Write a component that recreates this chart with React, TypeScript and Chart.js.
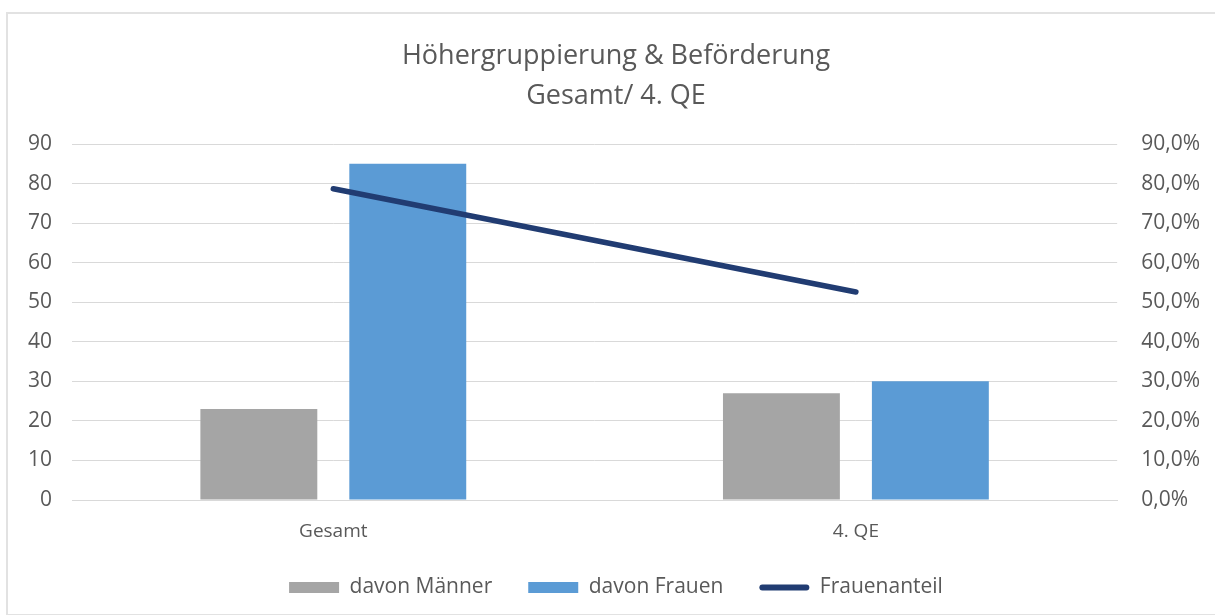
import React, { useEffect, useRef } from "react";
import { Chart, registerables } from "chart.js";

Chart.register(...registerables);

const categories = ["Gesamt", "4. QE"];
const maenner = [23, 27];
const frauen = [85, 30];
const frauenanteil = [78.7, 52.6];
const titleLines = ["Höhergruppierung & Beförderung", "Gesamt/ 4. QE"];
const legendOrder = ["davon Männer", "davon Frauen", "Frauenanteil"];

const FONT = "'Open Sans', 'Noto Sans', sans-serif";
const TEXT = "#595959";
const NAVY = "#213c72";

const legendLinePlugin = {
  id: "legendLine",
  afterDraw(chart: any) {
    const legend = chart.legend;
    if (!legend || !legend.legendHitBoxes) return;
    const idx = legend.legendItems.findIndex((it: any) => it.text === "Frauenanteil");
    const hb = legend.legendHitBoxes[idx];
    if (!hb) return;
    const bw = legend.options.labels.boxWidth;
    const ctx = chart.ctx;
    const cy = hb.top + hb.height / 2;
    ctx.save();
    ctx.strokeStyle = NAVY;
    ctx.lineWidth = 6;
    ctx.lineCap = "round";
    ctx.beginPath();
    ctx.moveTo(hb.left + 3, cy);
    ctx.lineTo(hb.left + bw - 3, cy);
    ctx.stroke();
    ctx.restore();
  },
};

export default function App() {
  const ref = useRef<HTMLCanvasElement | null>(null);
  useEffect(() => {
    if (!ref.current) return;
    const chart = new Chart(ref.current, {
      type: "bar",
      data: {
        labels: categories,
        datasets: [
          {
            type: "line",
            label: "Frauenanteil",
            data: frauenanteil,
            yAxisID: "y1",
            borderColor: NAVY,
            backgroundColor: NAVY,
            borderWidth: 5.5,
            borderCapStyle: "round",
            pointRadius: 0,
            order: 0,
          } as any,
          {
            type: "bar",
            label: "davon Männer",
            data: maenner,
            yAxisID: "y",
            backgroundColor: "#a5a5a5",
            categoryPercentage: 0.57,
            barPercentage: 0.785,
            order: 1,
          },
          {
            type: "bar",
            label: "davon Frauen",
            data: frauen,
            yAxisID: "y",
            backgroundColor: "#5b9bd5",
            categoryPercentage: 0.57,
            barPercentage: 0.785,
            order: 1,
          },
        ],
      },
      plugins: [legendLinePlugin],
      options: {
        animation: false,
        responsive: false,
        maintainAspectRatio: false,
        layout: { padding: { left: 0, right: -9, top: 0, bottom: 4 } },
        plugins: {
          title: {
            display: true,
            text: titleLines,
            color: TEXT,
            font: { family: FONT, size: 27, weight: "normal" as any, lineHeight: 1.5 },
            padding: { top: 22, bottom: 27 },
          },
          legend: {
            position: "bottom",
            labels: {
              color: TEXT,
              font: { family: FONT, size: 21 },
              boxWidth: 50,
              boxHeight: 11,
              padding: 36,
              generateLabels: (c: any) => {
                const items = Chart.defaults.plugins.legend.labels.generateLabels(c);
                const byName: Record<string, any> = {};
                items.forEach((it: any) => {
                  it.lineWidth = 0;
                  if (it.text === "Frauenanteil") it.fillStyle = "rgba(0,0,0,0)";
                  byName[it.text] = it;
                });
                return legendOrder.map((n) => byName[n]);
              },
            },
          },
          tooltip: { enabled: false },
        },
        scales: {
          x: {
            grid: { display: false, drawTicks: false },
            border: { display: true, color: "#d9d9d9" },
            ticks: { color: TEXT, font: { family: FONT, size: 19, lineHeight: 1 }, padding: 22 },
            afterFit: (scale: any) => {
              scale.height = 41;
            },
          },
          y: {
            position: "left",
            min: 0,
            max: 90,
            ticks: { stepSize: 10, color: TEXT, font: { family: FONT, size: 21 }, padding: 20 },
            grid: { color: "#d9d9d9", lineWidth: 1, drawTicks: false },
            border: { display: false },
          },
          y1: {
            position: "right",
            min: 0,
            max: 90,
            ticks: {
              stepSize: 10,
              color: TEXT,
              font: { family: FONT, size: 21 },
              padding: 24,
              callback: (v: any) => Number(v).toFixed(1).replace(".", ",") + "%",
            },
            grid: { display: false, drawTicks: false },
            border: { display: false },
          },
        },
      },
    });
    return () => chart.destroy();
  }, []);
  return (
    <div
      style={{
        position: "absolute",
        left: 6,
        top: 12,
        width: 1212,
        height: 600,
        border: "2px solid #e2e2e2",
        borderRight: "none",
        background: "#fff",
      }}
    >
      <canvas ref={ref} width={1207} height={598} style={{ display: "block" }} />
    </div>
  );
}
